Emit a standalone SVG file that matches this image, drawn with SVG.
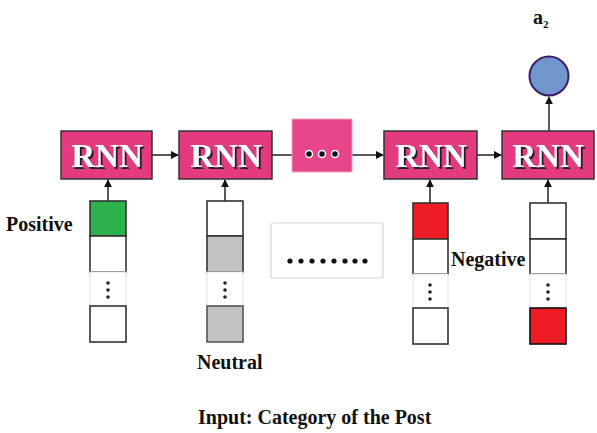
<svg xmlns="http://www.w3.org/2000/svg" width="597" height="433" viewBox="0 0 597 433">
<defs>
<marker id="ah" viewBox="0 0 10 10" refX="9" refY="5" markerWidth="8" markerHeight="8" markerUnits="userSpaceOnUse" orient="auto">
<path d="M0,0 L10,5 L0,10 z" fill="#111"/>
</marker>
<filter id="shd" x="-10%" y="-20%" width="130%" height="150%">
<feDropShadow dx="2" dy="2" stdDeviation="0.4" flood-color="#222" flood-opacity="1"/>
</filter>
<style>
.rnn{fill:#E33A80;stroke:#333;stroke-width:1.5}
.rt{font-family:"Liberation Serif",serif;font-weight:bold;font-size:33px;text-anchor:middle;fill:#fff;filter:url(#shd)}
.cell{fill:#fff;stroke:#333;stroke-width:1.6}
.dcell{fill:#fff;stroke:#e2e2e2;stroke-width:1}
.lbl{font-family:"Liberation Serif",serif;font-weight:bold;font-size:20px;fill:#111}
.ln{stroke:#222;stroke-width:1.5;fill:none}
</style>
</defs>
<rect width="597" height="433" fill="#fff"/>

<g id="connectors">
<line class="ln" x1="152" y1="155" x2="178" y2="155" marker-end="url(#ah)"/>
<line class="ln" x1="272" y1="155" x2="292" y2="155"/>
<line class="ln" x1="352" y1="155" x2="383" y2="155" marker-end="url(#ah)"/>
<line class="ln" x1="477" y1="155" x2="501" y2="155" marker-end="url(#ah)"/>
<line class="ln" x1="549" y1="131" x2="549" y2="97" marker-end="url(#ah)"/>
<line class="ln" x1="108" y1="201" x2="108" y2="180" marker-end="url(#ah)"/>
<line class="ln" x1="225" y1="201" x2="225" y2="180" marker-end="url(#ah)"/>
<line class="ln" x1="430" y1="203" x2="430" y2="180" marker-end="url(#ah)"/>
<line class="ln" x1="548" y1="203" x2="548" y2="180" marker-end="url(#ah)"/>
</g>

<g id="rnn1">
<rect class="rnn" x="61" y="131" width="91" height="48"/>
<text class="rt" x="107" y="167">RNN</text>
</g>
<g id="rnn2">
<rect class="rnn" x="179" y="131" width="93" height="48"/>
<text class="rt" x="226" y="167">RNN</text>
</g>
<g id="ellipsis-node">
<rect x="292" y="119" width="60" height="53" fill="#E8468A" stroke="#e9a0c0" stroke-width="1"/>
<g fill="#111" stroke="#fff" stroke-width="1.5">
<circle cx="309" cy="154" r="3.5"/>
<circle cx="322" cy="154" r="3.5"/>
<circle cx="335" cy="154" r="3.5"/>
</g>
</g>
<g id="rnn3">
<rect class="rnn" x="384" y="131" width="93" height="48"/>
<text class="rt" x="431" y="167">RNN</text>
</g>
<g id="rnn4">
<rect class="rnn" x="502" y="131" width="92" height="48"/>
<text class="rt" x="548" y="167">RNN</text>
</g>

<g id="output">
<circle cx="549" cy="76" r="19.5" fill="#7096CC" stroke="#3B1C6E" stroke-width="2"/>
<text class="lbl" x="533" y="24" font-size="16">a<tspan font-size="11" dy="4">2</tspan></text>
</g>

<g id="col1">
<rect class="cell" x="90" y="201" width="36" height="35" style="fill:#2BB24C"/>
<rect class="cell" x="90" y="236" width="36" height="36"/>
<rect class="dcell" x="90" y="272" width="36" height="34"/>
<g fill="#222"><circle cx="108" cy="283" r="1.8"/><circle cx="108" cy="290" r="1.8"/><circle cx="108" cy="297" r="1.8"/></g>
<rect class="cell" x="90" y="306" width="36" height="36"/>
</g>
<g id="col2">
<rect class="cell" x="207" y="201" width="36" height="35"/>
<rect class="cell" x="207" y="236" width="36" height="36" style="fill:#C2C2C2"/>
<rect class="dcell" x="207" y="272" width="36" height="34"/>
<g fill="#222"><circle cx="225" cy="283" r="1.8"/><circle cx="225" cy="290" r="1.8"/><circle cx="225" cy="297" r="1.8"/></g>
<rect class="cell" x="207" y="306" width="36" height="36" style="fill:#C2C2C2;stroke:#555"/>
</g>
<g id="middle-dots">
<rect x="271" y="223" width="112" height="55" fill="#fff" stroke="#d6d6d6" stroke-width="1.2" rx="2"/>
<g fill="#111">
<circle cx="290" cy="261" r="2.6"/><circle cx="301" cy="261" r="2.6"/><circle cx="312" cy="261" r="2.6"/><circle cx="323" cy="261" r="2.6"/>
<circle cx="334" cy="261" r="2.6"/><circle cx="345" cy="261" r="2.6"/><circle cx="355" cy="261" r="2.6"/><circle cx="365" cy="261" r="2.6"/>
</g>
</g>
<g id="col3">
<rect class="cell" x="413" y="203" width="35" height="36" style="fill:#EE1C25"/>
<rect class="cell" x="413" y="239" width="35" height="35"/>
<rect class="dcell" x="413" y="274" width="35" height="34"/>
<g fill="#222"><circle cx="430" cy="285" r="1.8"/><circle cx="430" cy="292" r="1.8"/><circle cx="430" cy="299" r="1.8"/></g>
<rect class="cell" x="413" y="308" width="35" height="36"/>
</g>
<g id="col4">
<rect class="cell" x="530" y="203" width="36" height="36"/>
<rect class="cell" x="530" y="239" width="36" height="35"/>
<rect class="dcell" x="530" y="274" width="36" height="34"/>
<g fill="#222"><circle cx="548" cy="285" r="1.8"/><circle cx="548" cy="292" r="1.8"/><circle cx="548" cy="299" r="1.8"/></g>
<rect class="cell" x="530" y="308" width="36" height="36" style="fill:#EE1C25;stroke:#111"/>
</g>

<g id="labels">
<text class="lbl" x="6" y="231">Positive</text>
<text class="lbl" x="197" y="369">Neutral</text>
<text class="lbl" x="451" y="266">Negative</text>
<text class="lbl" x="198" y="424">Input: Category of the Post</text>
</g>
</svg>
